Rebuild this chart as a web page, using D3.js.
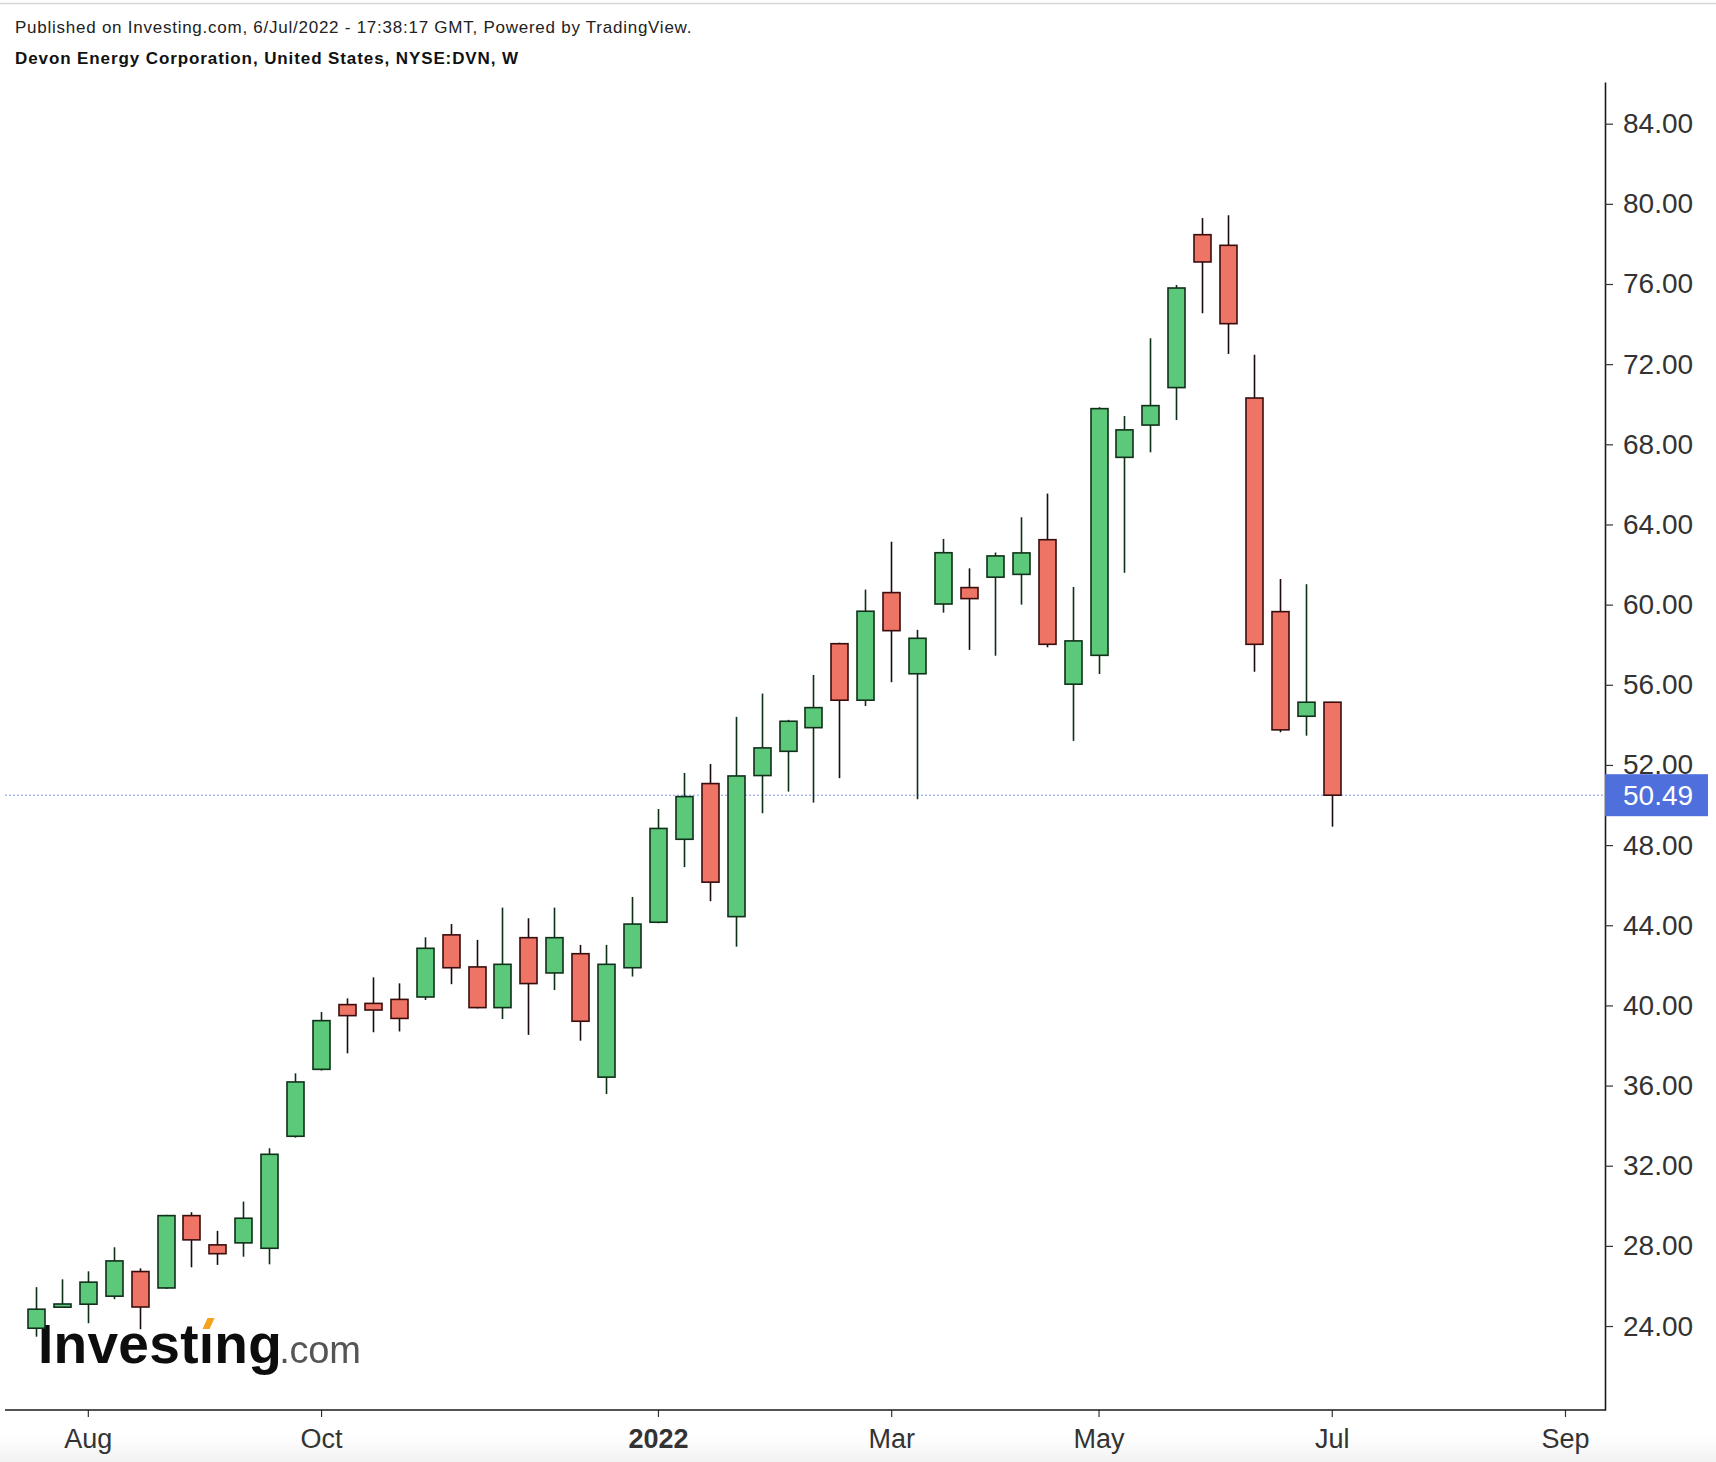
<!DOCTYPE html>
<html>
<head>
<meta charset="utf-8">
<script src="https://cdn.jsdelivr.net/npm/d3@7"></script>
<style>
  body { margin: 0; background: #fff; }
  svg { display: block; font-family: "Liberation Sans", Arial, sans-serif; }
</style>
</head>
<body>
<div id="chart"></div>
<script>

// weekly bars, DVN
var weeks = ["2021-07-19","2021-07-26","2021-08-02","2021-08-09","2021-08-16","2021-08-23","2021-08-30",
             "2021-09-06","2021-09-13","2021-09-20","2021-09-27","2021-10-04","2021-10-11","2021-10-18",
             "2021-10-25","2021-11-01","2021-11-08","2021-11-15","2021-11-22","2021-11-29","2021-12-06",
             "2021-12-13","2021-12-20","2021-12-27","2022-01-03","2022-01-10","2022-01-17","2022-01-24",
             "2022-01-31","2022-02-07","2022-02-14","2022-02-21","2022-02-28","2022-03-07","2022-03-14",
             "2022-03-21","2022-03-28","2022-04-04","2022-04-11","2022-04-18","2022-04-25","2022-05-02",
             "2022-05-09","2022-05-16","2022-05-23","2022-05-30","2022-06-06","2022-06-13","2022-06-20",
             "2022-06-27","2022-07-04"];
var opens  = [23.89,24.94,25.09,25.49,26.72,25.90,29.51,28.05,28.15,27.88,33.47,36.81,40.04,40.10,40.30,
              40.42,43.52,41.92,39.89,43.38,41.62,42.58,36.42,41.88,44.15,48.29,51.07,44.43,51.47,52.68,
              53.86,58.05,55.23,60.60,56.55,60.03,60.85,61.37,61.51,63.24,56.03,57.47,67.35,68.96,70.83,
              78.46,77.93,70.31,59.65,54.43,55.13];
var highs  = [25.94,26.33,26.73,27.93,26.88,29.55,29.68,28.75,30.21,32.87,36.61,39.67,40.35,41.40,41.10,
              43.40,44.06,43.27,44.88,44.35,44.88,43.02,43.02,45.41,49.80,51.60,52.05,54.40,55.56,54.25,
              56.49,58.10,60.75,63.14,58.74,63.28,61.81,62.60,64.36,65.54,60.88,69.85,69.41,73.29,75.95,
              79.29,79.43,72.47,61.28,61.02,55.15];
var lows   = [23.47,24.94,24.14,25.34,23.84,25.85,26.93,27.05,27.46,27.08,33.40,36.75,37.61,38.66,38.70,
              40.27,41.06,39.85,39.32,38.53,40.77,38.24,35.58,41.44,44.10,46.90,45.20,42.93,49.59,50.67,
              50.12,51.34,54.94,56.13,50.29,59.60,57.74,57.45,60.00,57.87,53.20,56.54,61.59,67.60,69.21,
              74.54,72.51,56.65,53.63,53.46,48.92];
var closes = [24.84,25.10,26.19,27.25,24.95,29.51,28.30,27.61,29.38,32.57,36.18,39.24,39.49,39.77,39.35,
              42.85,41.88,39.89,42.05,41.09,43.38,39.21,42.05,44.06,48.83,50.42,46.15,51.45,52.85,54.18,
              54.86,55.23,59.67,58.70,58.32,62.59,60.30,62.43,62.58,58.02,58.19,69.78,68.72,69.93,75.80,
              77.10,74.02,58.02,53.75,55.13,50.49];

var lastPrice = 50.49;

var xTickDates  = ["2021-08-02","2021-10-04","2022-01-03","2022-03-07","2022-05-02","2022-07-04","2022-09-05"];
var xTickLabels = ["Aug","Oct","2022","Mar","May","Jul","Sep"];
var yTicks = [24,28,32,36,40,44,48,52,56,60,64,68,72,76,80,84];

var parseDate = d3.timeParse("%Y-%m-%d");

var candles = weeks.map(function(w, i) {
    return {date: parseDate(w), o: opens[i], h: highs[i], l: lows[i], c: closes[i]};
});

var width = 1716;
var height = 1462;
var axisX = 1605;
var plotTop = 82;
var plotBottom = 1410;

var svg = d3.select("#chart")
            .append("svg")
            .attr("width", width)
            .attr("height", height);

// faint frame bits
var defs = svg.append("defs");
var grad = defs.append("linearGradient").attr("id", "foot").attr("x1", 0).attr("y1", 0).attr("x2", 0).attr("y2", 1);
grad.append("stop").attr("offset", "0%").attr("stop-color", "#fff");
grad.append("stop").attr("offset", "100%").attr("stop-color", "#f2f2f2");
defs.append("filter").attr("id", "soft")
    .append("feGaussianBlur").attr("stdDeviation", 0.7);

svg.append("rect").attr("x", 0).attr("y", 1436).attr("width", width).attr("height", 26).attr("fill", "url(#foot)");
svg.append("line").attr("x1", 0).attr("x2", width).attr("y1", 3.5).attr("y2", 3.5)
   .attr("stroke", "#d6d6d6").attr("stroke-width", 1.5);

// header
svg.append("text").attr("x", 15).attr("y", 33)
   .attr("font-size", 17).attr("letter-spacing", 0.75).attr("fill", "#222")
   .text("Published on Investing.com, 6/Jul/2022 - 17:38:17 GMT, Powered by TradingView.");
svg.append("text").attr("x", 15).attr("y", 64)
   .attr("font-size", 17).attr("letter-spacing", 0.9).attr("font-weight", "bold").attr("fill", "#111")
   .text("Devon Energy Corporation, United States, NYSE:DVN, W");

var x = d3.scaleTime()
          .domain([parseDate("2021-07-19"), parseDate("2022-09-05")])
          .range([36, 1565]);

var y = d3.scaleLinear()
          .domain([19.81, 86.08])
          .range([plotBottom, plotTop]);

// watermark logo
var logo = svg.append("g").attr("filter", "url(#soft)");
var logoText = logo.append("text").attr("x", 38).attr("y", 1363)
   .attr("font-size", 55).attr("font-weight", "bold").attr("fill", "#0a0a0a")
   .attr("letter-spacing", 0.3);
logoText.append("tspan").text("Investıng");
logoText.append("tspan").attr("font-size", 38).attr("font-weight", "normal")
   .attr("fill", "#555").attr("letter-spacing", -0.2).attr("dx", -3).text(".com");
var iPos = logoText.node().getStartPositionOfChar(6);
var iW = logoText.node().getExtentOfChar(6).width;
logo.append("path")
    .attr("d", "M" + (iPos.x + iW / 2 - 4) + ",1329 l5,-11 l7,0 l-5,11 z")
    .attr("fill", "#f5a31f");

// last price line
svg.append("line")
   .attr("x1", 5).attr("x2", axisX)
   .attr("y1", y(lastPrice)).attr("y2", y(lastPrice))
   .attr("stroke", "#7f97ec").attr("stroke-width", 1)
   .attr("stroke-dasharray", "2,2");

// candles
var bodyW = 17;
var g = svg.append("g");
var bars = g.selectAll("g.candle")
            .data(candles)
            .enter()
              .append("g")
              .attr("class", "candle");

bars.append("line")
    .attr("x1", function(d) { return Math.round(x(d.date)) + 0.5; })
    .attr("x2", function(d) { return Math.round(x(d.date)) + 0.5; })
    .attr("y1", function(d) { return y(d.h); })
    .attr("y2", function(d) { return y(d.l); })
    .attr("stroke", function(d) { return d.c >= d.o ? "#0c2e12" : "#1c0c0c"; })
    .attr("stroke-width", 1.6);

bars.append("rect")
    .attr("x", function(d) { return Math.round(x(d.date)) + 0.5 - bodyW / 2; })
    .attr("y", function(d) { return y(Math.max(d.o, d.c)); })
    .attr("width", bodyW)
    .attr("height", function(d) { return Math.max(2, Math.abs(y(d.o) - y(d.c))); })
    .attr("fill", function(d) { return d.c >= d.o ? "#5bc87a" : "#ee7466"; })
    .attr("stroke", function(d) { return d.c >= d.o ? "#10301a" : "#3a0d0d"; })
    .attr("stroke-width", 1.6);

// y axis
var yAxis = d3.axisRight(y)
              .tickValues(yTicks)
              .tickSize(8)
              .tickSizeOuter(0)
              .tickPadding(10)
              .tickFormat(d3.format(".2f"));

var ya = svg.append("g")
            .attr("transform", "translate(" + axisX + ",0)")
            .call(yAxis);
ya.select(".domain").attr("stroke", "#1a1a1a").attr("stroke-width", 1.6);
ya.selectAll(".tick line").attr("stroke", "#333").attr("stroke-width", 1.2);
ya.selectAll(".tick text").attr("font-size", 28).attr("fill", "#333")
  .attr("font-family", "'Liberation Sans', Arial, sans-serif");

// last price tag
svg.append("rect")
   .attr("x", axisX).attr("y", y(lastPrice) - 21)
   .attr("width", 103).attr("height", 42)
   .attr("fill", "#4f6fdc");
svg.append("text")
   .attr("x", axisX + 18).attr("y", y(lastPrice))
   .attr("dy", "0.35em")
   .attr("font-size", 28).attr("fill", "#fff")
   .text(d3.format(".2f")(lastPrice));

// x axis
var xAxis = d3.axisBottom(x)
              .tickValues(xTickDates.map(parseDate))
              .tickSize(7)
              .tickSizeOuter(0)
              .tickPadding(12)
              .tickFormat(function(d, i) { return xTickLabels[i]; });

var xa = svg.append("g")
            .attr("transform", "translate(0," + plotBottom + ")")
            .call(xAxis);
xa.select(".domain").remove();
xa.selectAll(".tick line").attr("stroke", "#333").attr("stroke-width", 1.2);
xa.selectAll(".tick text").attr("font-size", 27).attr("fill", "#333")
  .attr("font-family", "'Liberation Sans', Arial, sans-serif")
  .attr("font-weight", function(d, i) { return xTickLabels[i] === "2022" ? "bold" : "normal"; });

svg.append("line")
   .attr("x1", 5).attr("x2", axisX + 0.8)
   .attr("y1", plotBottom).attr("y2", plotBottom)
   .attr("stroke", "#1a1a1a").attr("stroke-width", 1.6);

</script>
</body>
</html>
